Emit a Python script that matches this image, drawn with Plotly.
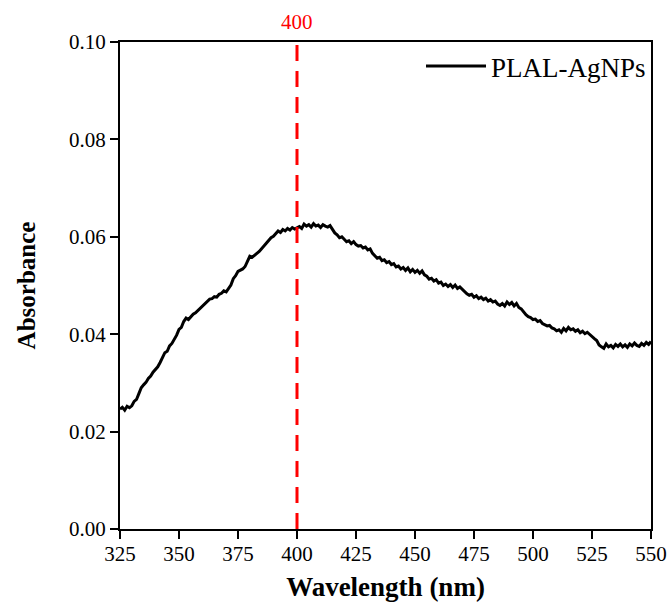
import plotly.graph_objects as go

wavelength = list(range(325, 551))
absorbance = [
    0.0246, 0.0250, 0.0244, 0.0252, 0.0249, 0.0253, 0.0262, 0.0266, 0.0278, 0.0290,
    0.0296, 0.0301, 0.0309, 0.0314, 0.0322, 0.0328, 0.0333, 0.0342, 0.0352, 0.0362,
    0.0365, 0.0376, 0.0381, 0.0389, 0.0398, 0.0410, 0.0414, 0.0426, 0.0433, 0.0430,
    0.0436, 0.0441, 0.0444, 0.0449, 0.0453, 0.0458, 0.0462, 0.0468, 0.0472, 0.0473,
    0.0477, 0.0476, 0.0482, 0.0484, 0.0489, 0.0487, 0.0495, 0.0501, 0.0514, 0.0520,
    0.0529, 0.0531, 0.0534, 0.0539, 0.0549, 0.0560, 0.0558, 0.0563, 0.0566, 0.0570,
    0.0576, 0.0580, 0.0588, 0.0593, 0.0598, 0.0601, 0.0606, 0.0612, 0.0609, 0.0615,
    0.0612, 0.0617, 0.0614, 0.0619, 0.0616, 0.0619, 0.0621, 0.0617, 0.0626, 0.0622,
    0.0625, 0.0620, 0.0627, 0.0622, 0.0624, 0.0619, 0.0625, 0.0622, 0.0620, 0.0623,
    0.0615, 0.0608, 0.0604, 0.0598, 0.0600, 0.0594, 0.0590, 0.0592, 0.0586, 0.0590,
    0.0584, 0.0581, 0.0582, 0.0577, 0.0579, 0.0573, 0.0575, 0.0566, 0.0562, 0.0556,
    0.0558, 0.0551, 0.0553, 0.0547, 0.0549, 0.0543, 0.0545, 0.0538, 0.0540, 0.0534,
    0.0537, 0.0531, 0.0536, 0.0528, 0.0533, 0.0527, 0.0531, 0.0525, 0.0530, 0.0522,
    0.0519, 0.0513, 0.0515, 0.0509, 0.0512, 0.0505, 0.0507, 0.0500, 0.0503, 0.0498,
    0.0502, 0.0496, 0.0501, 0.0494, 0.0497, 0.0492, 0.0488, 0.0483, 0.0480, 0.0482,
    0.0476, 0.0479, 0.0473, 0.0476, 0.0471, 0.0474, 0.0468, 0.0471, 0.0466, 0.0468,
    0.0462, 0.0459, 0.0463, 0.0458, 0.0466, 0.0461, 0.0465, 0.0458, 0.0463, 0.0455,
    0.0452, 0.0445, 0.0440, 0.0436, 0.0434, 0.0430, 0.0431, 0.0426, 0.0428, 0.0422,
    0.0420, 0.0417, 0.0418, 0.0413, 0.0411, 0.0407, 0.0409, 0.0404, 0.0412, 0.0407,
    0.0414, 0.0409, 0.0411, 0.0406, 0.0409, 0.0403, 0.0406, 0.0401, 0.0404, 0.0399,
    0.0396, 0.0391, 0.0387, 0.0378, 0.0374, 0.0371, 0.0380, 0.0374, 0.0377, 0.0372,
    0.0379, 0.0375, 0.0380, 0.0374, 0.0378, 0.0373, 0.0380, 0.0376, 0.0382, 0.0377,
    0.0375, 0.0381, 0.0377, 0.0383, 0.0379, 0.0385,
]
peak_wavelength = 400
x_ticks = [325, 350, 375, 400, 425, 450, 475, 500, 525, 550]
y_ticks = [0.00, 0.02, 0.04, 0.06, 0.08, 0.10]

FONT = "Liberation Serif, Times New Roman, serif"

fig = go.Figure()
fig.add_trace(go.Scatter(
    x=wavelength, y=absorbance, mode="lines", name="PLAL-AgNPs",
    line=dict(color="black", width=3),
))

fig.add_shape(type="line", x0=peak_wavelength, x1=peak_wavelength, y0=0, y1=1,
              xref="x", yref="paper",
              line=dict(color="red", width=3, dash="16px,10px"))
fig.add_annotation(x=peak_wavelength, y=1, xref="x", yref="paper",
                   text=str(peak_wavelength), showarrow=False,
                   yanchor="bottom", yshift=6,
                   font=dict(family=FONT, size=21, color="red"))

fig.update_layout(
    width=668, height=605,
    margin=dict(l=120, r=17, t=42, b=76, autoexpand=False),
    paper_bgcolor="white", plot_bgcolor="white",
    font=dict(family=FONT, color="black", size=21),
    showlegend=True,
    legend=dict(x=1, y=1, xanchor="right", yanchor="top",
                bgcolor="rgba(0,0,0,0)", font=dict(size=27, family=FONT),
                itemwidth=60, tracegroupgap=0),
    xaxis=dict(range=[325, 550], tickvals=x_ticks, ticktext=[str(v) for v in x_ticks],
               showgrid=False, zeroline=False, showline=True, linecolor="black", linewidth=2,
               mirror=True, ticks="outside", ticklen=8, tickwidth=2, tickcolor="black",
               tickfont=dict(size=21, family=FONT), automargin=False, ticklabelstandoff=-3,
               title=dict(text="<b>Wavelength (nm)</b>", font=dict(size=27, family=FONT), standoff=12)),
    yaxis=dict(range=[0, 0.10], tickvals=y_ticks, ticktext=[f"{v:.2f}" for v in y_ticks],
               showgrid=False, zeroline=False, showline=True, linecolor="black", linewidth=2,
               mirror=True, ticks="outside", ticklen=8, tickwidth=2, tickcolor="black",
               tickfont=dict(size=21, family=FONT), automargin=False,
               title=dict(text="<b>Absorbance</b>", font=dict(size=25, family=FONT), standoff=26)),
)

# Remove the default 8px page margin so the figure fills the window exactly.
fig.write_html("out.html",
               config={"displayModeBar": False},
               post_script="document.body.style.margin='0';document.body.style.overflow='hidden';")
